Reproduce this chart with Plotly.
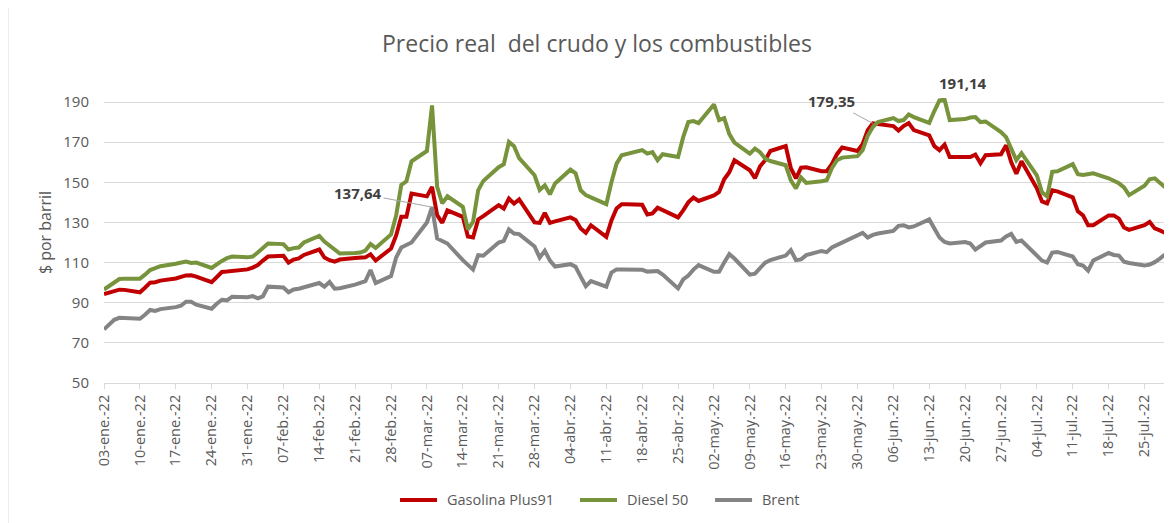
import pandas as pd
import plotly.graph_objects as go

# Trading days (weekdays) 03-ene-2022 .. 29-jul-2022
dates = pd.bdate_range("2022-01-03", "2022-07-29")

gasolina = [
    94.3, 95.2, 96.0, 96.5, 96.4,
    95.2, 97.5, 100.0, 100.2, 101.0,
    102.1, 102.8, 103.6, 103.7, 103.0,
    100.2, 102.8, 105.3, 105.5, 105.8,
    106.6, 107.5, 108.8, 111.0, 113.0,
    113.4, 110.0, 111.5, 112.1, 113.8,
    116.5, 112.5, 111.2, 110.5, 111.5,
    112.3, 112.5, 112.6, 114.1, 111.0,
    117.0, 123.5, 132.8, 132.8, 144.4,
    143.0, 147.7, 133.6, 129.8, 136.0,
    132.8, 123.0, 122.5, 131.5, 133.1,
    138.6, 136.9, 141.9, 139.4, 141.5,
    130.0, 129.8, 134.8, 129.8, 130.5,
    132.5, 131.2, 127.0, 124.8, 128.6,
    122.8, 131.0, 137.0, 139.1, 139.1,
    138.8, 134.0, 134.5, 137.3, 136.0,
    132.5, 136.0, 140.0, 142.4, 140.7,
    143.5, 145.2, 151.5, 155.0, 161.0,
    156.0, 152.0, 158.0, 161.0, 165.6,
    168.0, 157.0, 152.0, 157.3, 157.5,
    155.5, 155.5, 159.0, 164.0, 167.3,
    165.6, 169.0, 176.0, 179.35, 179.0,
    178.0, 175.8, 178.0, 179.5, 176.0,
    173.4, 168.0, 166.0, 168.8, 162.6,
    162.6, 162.6, 163.8, 159.5, 163.5,
    164.0, 168.4, 160.0, 154.3, 160.5,
    147.0, 140.5, 139.5, 146.0, 145.5,
    142.5, 135.5, 133.5, 128.6, 128.6,
    133.5, 133.5, 131.9, 127.5, 126.3,
    128.6, 130.3, 127.0, 126.0, 124.8,
]

diesel = [
    96.6, 98.5, 100.5, 101.8, 102.0,
    102.0, 104.0, 106.3, 107.2, 108.2,
    109.4, 109.8, 110.5, 109.8, 110.0,
    107.3, 109.2, 110.8, 112.2, 113.0,
    112.6, 113.0, 115.0, 117.5, 119.5,
    119.2, 116.5, 117.2, 117.5, 120.0,
    123.3, 120.5, 118.5, 116.0, 114.5,
    114.8, 115.0, 116.0, 119.2, 117.3,
    124.0, 133.5, 148.7, 150.5, 160.5,
    165.6, 188.3, 147.7, 139.5, 143.0,
    137.8, 126.5, 130.3, 146.0, 150.7,
    157.5, 159.0, 170.1, 168.0, 162.0,
    153.5, 146.2, 148.5, 144.0, 149.4,
    156.3, 154.5, 146.0, 143.6, 142.5,
    139.1, 150.0, 159.3, 163.5, 164.0,
    166.0, 164.3, 165.0, 161.0, 164.0,
    162.6, 172.5, 180.0, 180.5, 179.5,
    188.8, 181.0, 182.0, 174.0, 169.8,
    164.3, 166.8, 165.0, 161.8, 160.6,
    158.5, 151.0, 147.0, 152.4, 149.7,
    150.5, 151.0, 157.0, 161.0, 162.3,
    163.0, 166.0, 173.2, 177.5, 180.0,
    182.0, 180.5, 181.0, 183.8, 182.5,
    179.6, 185.5, 190.8, 191.14, 181.0,
    181.5, 182.3, 182.5, 180.0, 180.3,
    175.0, 172.5, 166.5, 161.0, 164.5,
    153.5, 145.0, 143.0, 155.2, 155.5,
    159.0, 154.0, 153.6, 154.2, 154.5,
    152.0, 151.0, 149.5, 147.5, 143.6,
    148.3, 151.5, 152.0, 149.5, 147.5,
]

brent = [
    76.7, 79.3, 81.5, 82.5, 82.4,
    82.0, 84.0, 86.4, 85.9, 86.8,
    87.8, 88.5, 90.5, 90.5, 89.0,
    87.0, 89.5, 91.5, 91.2, 93.0,
    92.7, 93.3, 92.2, 93.2, 98.0,
    97.6, 95.2, 96.6, 97.0, 97.7,
    99.8, 98.0, 100.3, 97.0, 97.2,
    99.0, 100.0, 100.8, 106.3, 99.8,
    103.3, 112.5, 117.5, 118.8, 120.0,
    130.0, 137.64, 122.0, 120.5, 119.5,
    111.2, 108.5, 106.5, 113.7, 113.4,
    120.0, 120.8, 126.5, 124.5, 124.2,
    118.0, 112.5, 115.9, 111.0, 108.0,
    109.2, 107.9, 103.0, 98.2, 100.8,
    98.0, 105.0, 106.6, 106.6, 106.6,
    106.4, 105.5, 105.6, 105.8, 104.0,
    97.1, 101.6, 103.5, 106.5, 108.7,
    105.4, 105.4, 110.0, 114.2, 112.0,
    104.0, 104.5, 107.5, 110.0, 111.2,
    113.5, 116.2, 111.2, 111.6, 113.7,
    115.8, 115.2, 117.5, 118.7, 120.0,
    124.0, 124.8, 122.5, 123.8, 124.5,
    125.8, 128.3, 128.6, 127.5, 128.0,
    131.5, 127.0, 122.5, 120.3, 119.5,
    120.2, 119.5, 116.5, 118.5, 120.0,
    121.0, 123.0, 124.3, 120.3, 121.0,
    114.0, 111.0, 110.0, 115.0, 115.3,
    113.0, 109.2, 108.5, 106.0, 111.0,
    114.8, 113.8, 113.5, 110.4, 109.8,
    108.5, 109.0, 110.2, 112.0, 114.0,
]

tick_labels = [
    "03-ene.-22", "10-ene.-22", "17-ene.-22", "24-ene.-22", "31-ene.-22",
    "07-feb.-22", "14-feb.-22", "21-feb.-22", "28-feb.-22", "07-mar.-22",
    "14-mar.-22", "21-mar.-22", "28-mar.-22", "04-abr.-22", "11-abr.-22",
    "18-abr.-22", "25-abr.-22", "02-may.-22", "09-may.-22", "16-may.-22",
    "23-may.-22", "30-may.-22", "06-jun.-22", "13-jun.-22", "20-jun.-22",
    "27-jun.-22", "04-jul.-22", "11-jul.-22", "18-jul.-22", "25-jul.-22",
]
tick_dates = pd.date_range("2022-01-03", periods=len(tick_labels), freq="7D")

y_ticks = [50, 70, 90, 110, 130, 150, 170, 190]

series_names = ["Gasolina Plus91", "Diesel 50", "Brent"]
series_colors = ["#C00000", "#77933C", "#848484"]

FONT = "Open Sans"
GREY_TXT = "#595959"

fig = go.Figure()
for name, vals, col in zip(series_names, [gasolina, diesel, brent], series_colors):
    fig.add_trace(go.Scatter(
        x=dates, y=vals, name=name, mode="lines",
        line=dict(color=col, width=4),
        showlegend=False,
    ))

# data labels
i_brent = brent.index(max(brent))
i_gas = gasolina.index(179.35)
i_dsl = diesel.index(max(diesel))
ann = dict(font=dict(family=FONT, size=15, color="#404040"))
fig.add_annotation(x=dates[i_brent], y=brent[i_brent], text="<b>137,64</b>",
                   showarrow=True, arrowhead=0, arrowwidth=1, arrowcolor="#A6A6A6",
                   ax=-74, ay=-14, **ann)
fig.add_annotation(x=dates[i_gas], y=gasolina[i_gas], text="<b>179,35</b>",
                   showarrow=True, arrowhead=0, arrowwidth=1, arrowcolor="#A6A6A6",
                   ax=-41, ay=-22, **ann)
fig.add_annotation(x=dates[i_dsl], y=diesel[i_dsl], text="<b>191,14</b>",
                   showarrow=False, xshift=18, yshift=17, **ann)

# y-axis title
fig.add_annotation(xref="paper", yref="paper", x=-0.0556, y=0.526,
                   text="$ por barril", textangle=-90, showarrow=False,
                   xanchor="center", yanchor="middle",
                   font=dict(family=FONT, size=16, color=GREY_TXT))

# legend drawn at the bottom (line sample + label)
leg_y = -0.4105
leg_x = [0.279, 0.4486, 0.5759]
for name, col, x0 in zip(series_names, series_colors, leg_x):
    fig.add_shape(type="line", xref="paper", yref="paper",
                  x0=x0, x1=x0 + 0.0349, y0=leg_y, y1=leg_y,
                  line=dict(color=col, width=4))
    fig.add_annotation(xref="paper", yref="paper", x=x0 + 0.0425, y=leg_y,
                       text=name, showarrow=False, xanchor="left", yanchor="middle",
                       font=dict(family=FONT, size=14.5, color=GREY_TXT))

# chart-area border (left edge visible)
fig.add_shape(type="line", xref="paper", yref="paper",
              x0=-0.0905, x1=-0.0905, y0=-0.5, y1=1.4,
              line=dict(color="#D9D9D9", width=1))

fig.update_layout(
    width=1164, height=515,
    margin=dict(l=96, r=7, t=90, b=140),
    paper_bgcolor="white", plot_bgcolor="white",
    font=dict(family=FONT, color=GREY_TXT),
    title=dict(text="Precio real\u00a0 del crudo y los combustibles",
               x=0.506, xanchor="center", y=0.930, yanchor="middle",
               font=dict(family=FONT, size=23, color=GREY_TXT)),
    showlegend=False,
    xaxis=dict(type="date", range=["2022-01-03", "2022-07-29"],
               tickmode="array", tickvals=tick_dates, ticktext=tick_labels,
               tickangle=-90, ticks="outside", ticklen=5, tickcolor="#D9D9D9",
               showline=True, linecolor="#D9D9D9", linewidth=1,
               showgrid=False, zeroline=False,
               tickfont=dict(family=FONT, size=14.5, color=GREY_TXT)),
    yaxis=dict(range=[50, 192], tickmode="array", tickvals=y_ticks,
               showgrid=True, gridcolor="#D9D9D9", gridwidth=1,
               zeroline=False, showline=False,
               ticks="outside", ticklen=11, tickcolor="rgba(0,0,0,0)",
               tickfont=dict(family=FONT, size=15, color=GREY_TXT)),
)

fig.write_html("out.html")
